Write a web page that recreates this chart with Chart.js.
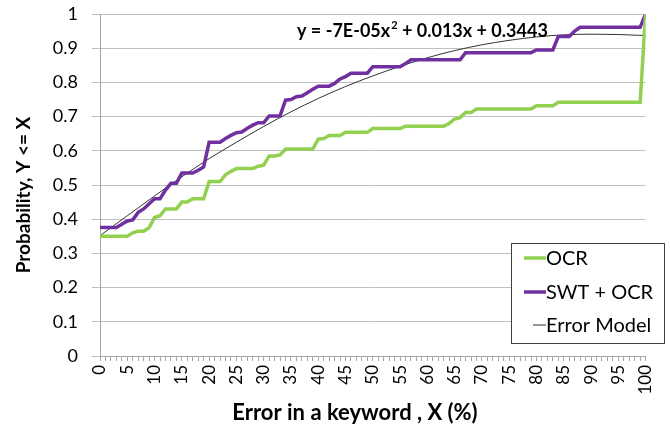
<!DOCTYPE html>
<html>
<head>
<meta charset="utf-8">
<script src="https://cdn.jsdelivr.net/npm/chart.js@4"></script>
<style>
  html, body { margin: 0; padding: 0; background: #fff; }
  #wrap { width: 670px; height: 428px; position: relative; }
</style>
</head>
<body>
<div id="wrap"><canvas id="chartErr"></canvas></div>
<script>
// Error in keyword (%) 0..100
const errX = [];
for (let i = 0; i <= 100; i++) errX.push(i);

// OCR seul (vert)
const ocr = [
  0.35, 0.35, 0.35, 0.35, 0.35, 0.35, 0.36, 0.365, 0.365, 0.375,
  0.405, 0.41, 0.43, 0.43, 0.43, 0.45, 0.45, 0.46, 0.46, 0.46,
  0.51, 0.51, 0.51, 0.53, 0.54, 0.548, 0.548, 0.548, 0.548, 0.555,
  0.558, 0.585, 0.585, 0.588, 0.605, 0.605, 0.605, 0.605, 0.605, 0.605,
  0.634, 0.636, 0.645, 0.645, 0.645, 0.654, 0.654, 0.654, 0.654, 0.654,
  0.665, 0.665, 0.665, 0.665, 0.665, 0.665, 0.672, 0.672, 0.672, 0.672,
  0.672, 0.672, 0.672, 0.672, 0.68, 0.693, 0.697, 0.712, 0.712, 0.722,
  0.722, 0.722, 0.722, 0.722, 0.722, 0.722, 0.722, 0.722, 0.722, 0.722,
  0.732, 0.732, 0.732, 0.732, 0.742, 0.742, 0.742, 0.742, 0.742, 0.742,
  0.742, 0.742, 0.742, 0.742, 0.742, 0.742, 0.742, 0.742, 0.742, 0.742,
  1.0
];

// SWT + OCR (violet)
const swtOcr = [
  0.376, 0.376, 0.376, 0.376, 0.385, 0.395, 0.398, 0.42, 0.43, 0.445,
  0.46, 0.46, 0.485, 0.505, 0.505, 0.535, 0.535, 0.535, 0.543, 0.553,
  0.625, 0.625, 0.625, 0.636, 0.645, 0.653, 0.655, 0.666, 0.675, 0.682,
  0.682, 0.702, 0.702, 0.702, 0.748, 0.75, 0.758, 0.76, 0.77, 0.78,
  0.789, 0.789, 0.789, 0.797, 0.81, 0.817, 0.827, 0.827, 0.827, 0.827,
  0.846, 0.846, 0.846, 0.846, 0.846, 0.846, 0.855, 0.866, 0.866, 0.866,
  0.866, 0.866, 0.866, 0.866, 0.866, 0.866, 0.866, 0.887, 0.887, 0.887,
  0.887, 0.887, 0.887, 0.887, 0.887, 0.887, 0.887, 0.887, 0.887, 0.887,
  0.895, 0.895, 0.895, 0.895, 0.934, 0.934, 0.934, 0.95, 0.961, 0.961,
  0.961, 0.961, 0.961, 0.961, 0.961, 0.961, 0.961, 0.961, 0.961, 0.961,
  1.0
];

// courbe de tendance (tous les 5 %)
const modelX = [0, 5, 10, 15, 20, 25, 30, 35, 40, 45, 50, 55, 60, 65, 70, 75, 80, 85, 90, 95, 100];
const modelY = [0.352, 0.41, 0.468, 0.524, 0.577, 0.625, 0.671, 0.714, 0.753, 0.788, 0.819, 0.847,
  0.872, 0.893, 0.91, 0.923, 0.933, 0.939, 0.941, 0.94, 0.937];

const yTicks = [0, 0.1, 0.2, 0.3, 0.4, 0.5, 0.6, 0.7, 0.8, 0.9, 1];
const equation = ['y = -7E-05x', '2', ' + 0.013x + 0.3443'];
const xTitle = 'Error in a keyword , X (%)';
const yTitle = 'Probability, Y <= X';

const toPts = (xs, ys) => xs.map((x, i) => ({ x: x, y: ys[i] }));

Chart.defaults.font.family = 'Lato, "Liberation Sans", sans-serif';
Chart.defaults.color = '#000';

// titres d'axes, legende dans la zone du graphe + equation
const extras = {
  id: 'extras',
  afterDraw(chart) {
    const ctx = chart.ctx;
    ctx.save();
    ctx.fillStyle = '#000';

    // titres
    ctx.textAlign = 'center';
    ctx.textBaseline = 'middle';
    ctx.font = 'bold 22px Lato, sans-serif';
    ctx.fillText(xTitle, 355, 413);
    ctx.save();
    ctx.translate(24, 195);
    ctx.rotate(-Math.PI / 2);
    ctx.font = 'bold 19px Lato, sans-serif';
    ctx.fillText(yTitle, 0, 0);
    ctx.restore();

    // equation
    ctx.textAlign = 'left';
    ctx.textBaseline = 'alphabetic';
    let x = 297;
    const base = 37;
    ctx.font = 'bold 18px Lato, sans-serif';
    ctx.fillText(equation[0], x, base);
    x += ctx.measureText(equation[0]).width;
    ctx.font = 'bold 11px Lato, sans-serif';
    ctx.fillText(equation[1], x + 1, base - 8);
    x += ctx.measureText(equation[1]).width + 1;
    ctx.font = 'bold 18px Lato, sans-serif';
    ctx.fillText(equation[2], x, base);

    // boite de legende
    const bx = 511, by = 243, bw = 153, bh = 100;
    ctx.fillStyle = '#fff';
    ctx.fillRect(bx, by, bw, bh);
    ctx.strokeStyle = '#404040';
    ctx.lineWidth = 1;
    ctx.strokeRect(bx + 0.5, by + 0.5, bw, bh);
    const rows = [258, 292, 325];
    chart.data.datasets.forEach((ds, i) => {
      ctx.strokeStyle = ds.borderColor;
      ctx.lineWidth = ds.borderWidth;
      ctx.beginPath();
      ctx.moveTo(i === 2 ? 533 : 524, rows[i]);
      ctx.lineTo(546, rows[i]);
      ctx.stroke();
      ctx.fillStyle = '#000';
      ctx.font = '20px Lato, sans-serif';
      ctx.textBaseline = 'middle';
      ctx.fillText(ds.label, 546, rows[i] + 1);
    });
    ctx.restore();
  }
};

new Chart(document.getElementById('chartErr'), {
  type: 'line',
  data: {
    datasets: [{
      label: 'OCR',
      data: toPts(errX, ocr),
      borderColor: '#92d050',
      borderWidth: 3.5,
      pointRadius: 0,
      tension: 0
    }, {
      label: 'SWT + OCR',
      data: toPts(errX, swtOcr),
      borderColor: '#7030a0',
      borderWidth: 3.5,
      pointRadius: 0,
      tension: 0
    }, {
      label: 'Error Model',
      data: toPts(modelX, modelY),
      borderColor: '#333333',
      borderWidth: 1,
      pointRadius: 0,
      cubicInterpolationMode: 'monotone'
    }]
  },
  options: {
    responsive: true,
    maintainAspectRatio: false,
    animation: false,
    layout: { padding: { top: 14, right: 9, left: 0, bottom: 0 } },
    plugins: {
      legend: { display: false },
      tooltip: { enabled: false }
    },
    scales: {
      x: {
        type: 'linear',
        min: 0,
        max: 100,
        afterFit: (axis) => { axis.height = 72; },
        grid: {
          drawOnChartArea: false,
          drawTicks: true,
          tickLength: 5,
          color: '#a6a6a6'
        },
        border: { color: '#a6a6a6' },
        ticks: {
          stepSize: 1,
          autoSkip: false,
          minRotation: 90,
          maxRotation: 90,
          padding: 4,
          font: { size: 17 },
          callback: (v) => (v % 5 === 0 ? String(v) : '')
        }
      },
      y: {
        min: 0,
        max: 1,
        afterFit: (axis) => {
          axis.width = 100;
          axis.paddingTop = 4;
          axis.paddingBottom = 4;
        },
        afterBuildTicks: (axis) => { axis.ticks = yTicks.map(v => ({ value: v })); },
        grid: {
          color: '#bfbfbf',
          tickLength: 8
        },
        border: { color: '#a6a6a6' },
        ticks: {
          padding: 14,
          font: { size: 18 },
          callback: (v) => String(v)
        }
      }
    }
  },
  plugins: [extras]
});
</script>
</body>
</html>
